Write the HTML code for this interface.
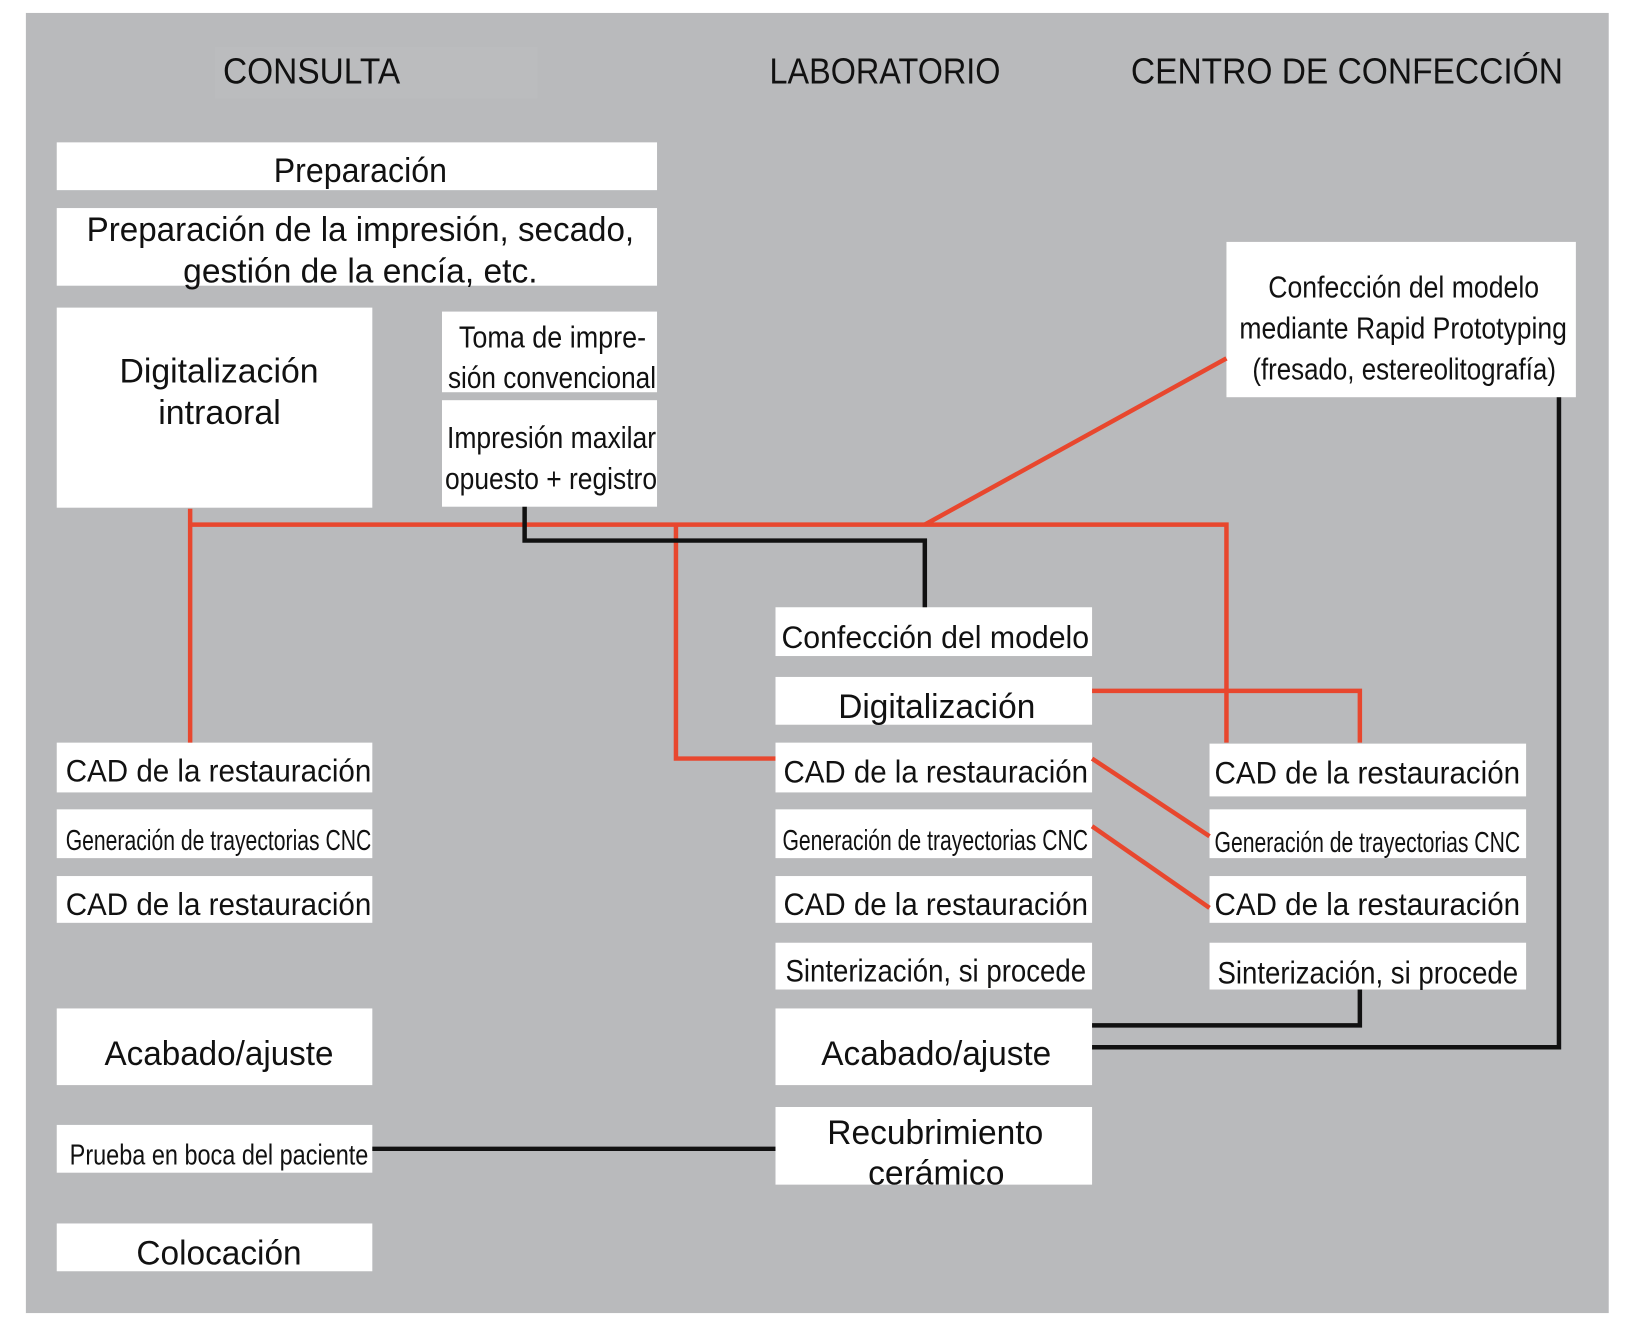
<!DOCTYPE html>
<html><head><meta charset="utf-8"><style>html,body{margin:0;padding:0;background:#fff}svg{display:block}</style></head>
<body>
<svg width="1629" height="1333" viewBox="0 0 1629 1333" xmlns="http://www.w3.org/2000/svg" font-family="Liberation Sans, sans-serif" fill="#111">
<rect x="0" y="0" width="1629" height="1333" fill="#fff"/>
<g transform="scale(0.9955)">
<rect x="26" y="13" width="1590" height="1306" fill="#b9babc"/>
<rect x="216" y="47" width="324" height="52" fill="#bbbcbe"/>
<g font-size="36">
<text x="224" y="84" textLength="178" lengthAdjust="spacingAndGlyphs">CONSULTA</text>
<text x="773" y="84" textLength="232" lengthAdjust="spacingAndGlyphs">LABORATORIO</text>
<text x="1136" y="84" textLength="434" lengthAdjust="spacingAndGlyphs">CENTRO DE CONFECCIÓN</text>
</g>
<g fill="#fff">
<rect x="57" y="143" width="603" height="48"/>
<rect x="57" y="209" width="603" height="78"/>
<rect x="57" y="309" width="317" height="201"/>
<rect x="444" y="313" width="216" height="81"/>
<rect x="444" y="402" width="216" height="107"/>
<rect x="1232" y="243" width="351" height="156"/>
<rect x="57" y="746" width="317" height="50"/>
<rect x="57" y="813" width="317" height="49"/>
<rect x="57" y="880" width="317" height="47"/>
<rect x="57" y="1013" width="317" height="77"/>
<rect x="57" y="1130" width="317" height="48"/>
<rect x="57" y="1229" width="317" height="48"/>
<rect x="779" y="610" width="318" height="49"/>
<rect x="779" y="680" width="318" height="48"/>
<rect x="779" y="746" width="318" height="50"/>
<rect x="779" y="813" width="318" height="49"/>
<rect x="779" y="880" width="318" height="47"/>
<rect x="779" y="947" width="318" height="47"/>
<rect x="779" y="1013" width="318" height="77"/>
<rect x="779" y="1112" width="318" height="78"/>
<rect x="1215" y="747" width="318" height="53"/>
<rect x="1215" y="813" width="318" height="49"/>
<rect x="1215" y="880" width="318" height="47"/>
<rect x="1215" y="947" width="318" height="47"/>
</g>
<g fill="none" stroke="#e8472e" stroke-width="4.5">
<polyline points="191,511 191,746"/>
<polyline points="191,527 1232,527 1232,746"/>
<polyline points="679,527 679,762 779,762"/>
<line x1="929" y1="527" x2="1232" y2="360"/>
<polyline points="1097,694 1366,694 1366,746"/>
<line x1="1097" y1="762" x2="1215" y2="840"/>
<line x1="1097" y1="830" x2="1215" y2="912"/>
</g>
<g fill="none" stroke="#111" stroke-width="4.5">
<polyline points="527,509 527,543 929,543 929,610"/>
<polyline points="1366,994 1366,1030 1097,1030"/>
<polyline points="1566,399 1566,1052 1097,1052"/>
<line x1="374" y1="1154" x2="779" y2="1154"/>
</g>
<g font-size="34">
<text x="275" y="183" textLength="174" lengthAdjust="spacingAndGlyphs">Preparación</text>
<text x="87" y="242" textLength="550" lengthAdjust="spacingAndGlyphs">Preparación de la impresión, secado,</text>
<text x="184" y="284" textLength="356" lengthAdjust="spacingAndGlyphs">gestión de la encía, etc.</text>
<text x="120" y="384" textLength="200" lengthAdjust="spacingAndGlyphs">Digitalización</text>
<text x="159" y="426" textLength="123" lengthAdjust="spacingAndGlyphs">intraoral</text>
</g>
<g font-size="31">
<text x="461" y="349" textLength="188" lengthAdjust="spacingAndGlyphs">Toma de impre-</text>
<text x="450" y="390" textLength="209" lengthAdjust="spacingAndGlyphs">sión convencional</text>
<text x="449" y="450" textLength="210" lengthAdjust="spacingAndGlyphs">Impresión maxilar</text>
<text x="447" y="491" textLength="213" lengthAdjust="spacingAndGlyphs">opuesto + registro</text>
<text x="1274" y="299" textLength="272" lengthAdjust="spacingAndGlyphs">Confección del modelo</text>
<text x="1245" y="340" textLength="329" lengthAdjust="spacingAndGlyphs">mediante Rapid Prototyping</text>
<text x="1258" y="381" textLength="305" lengthAdjust="spacingAndGlyphs">(fresado, estereolitografía)</text>
</g>
<g font-size="32">
<text x="66" y="785" textLength="307" lengthAdjust="spacingAndGlyphs">CAD de la restauración</text>
<text x="66" y="919" textLength="307" lengthAdjust="spacingAndGlyphs">CAD de la restauración</text>
<text x="105" y="1070" textLength="230" lengthAdjust="spacingAndGlyphs" font-size="34">Acabado/ajuste</text>
<text x="137" y="1270" textLength="166" lengthAdjust="spacingAndGlyphs" font-size="34">Colocación</text>
<text x="785" y="651" textLength="309" lengthAdjust="spacingAndGlyphs">Confección del modelo</text>
<text x="842" y="721" textLength="198" lengthAdjust="spacingAndGlyphs" font-size="34">Digitalización</text>
<text x="787" y="786" textLength="306" lengthAdjust="spacingAndGlyphs">CAD de la restauración</text>
<text x="787" y="919" textLength="306" lengthAdjust="spacingAndGlyphs">CAD de la restauración</text>
<text x="789" y="986" textLength="302" lengthAdjust="spacingAndGlyphs">Sinterización, si procede</text>
<text x="825" y="1070" textLength="231" lengthAdjust="spacingAndGlyphs" font-size="34">Acabado/ajuste</text>
<text x="831" y="1149" textLength="217" lengthAdjust="spacingAndGlyphs" font-size="34">Recubrimiento</text>
<text x="872" y="1190" textLength="137" lengthAdjust="spacingAndGlyphs" font-size="34">cerámico</text>
<text x="1220" y="787" textLength="307" lengthAdjust="spacingAndGlyphs">CAD de la restauración</text>
<text x="1220" y="919" textLength="307" lengthAdjust="spacingAndGlyphs">CAD de la restauración</text>
<text x="1223" y="988" textLength="302" lengthAdjust="spacingAndGlyphs">Sinterización, si procede</text>
</g>
<g font-size="29">
<text x="66" y="854" textLength="307" lengthAdjust="spacingAndGlyphs">Generación de trayectorias CNC</text>
<text x="786" y="854" textLength="307" lengthAdjust="spacingAndGlyphs">Generación de trayectorias CNC</text>
<text x="1220" y="856" textLength="307" lengthAdjust="spacingAndGlyphs">Generación de trayectorias CNC</text>
<text x="70" y="1170" textLength="300" lengthAdjust="spacingAndGlyphs">Prueba en boca del paciente</text>
</g>
</g>
</svg>
</body></html>
